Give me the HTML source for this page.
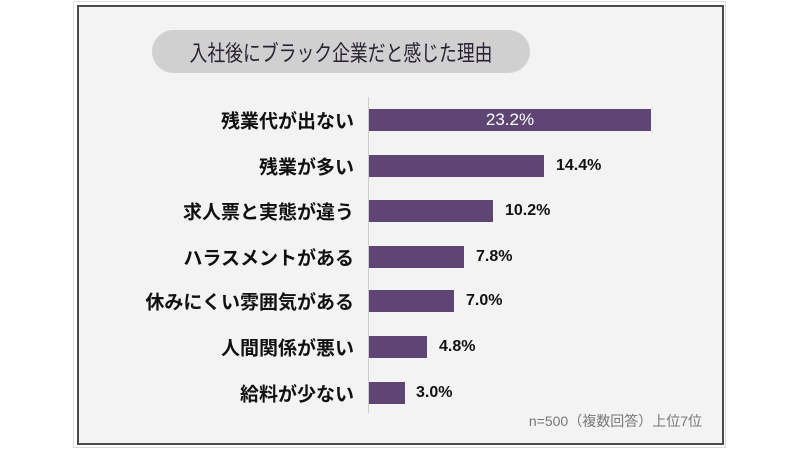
<!DOCTYPE html>
<html><head><meta charset="utf-8"><style>
body{margin:0;width:800px;height:450px;background:#fff;position:relative;font-family:"Liberation Sans","Noto Sans CJK JP",sans-serif;overflow:hidden}
.outer{position:absolute;left:73px;top:1px;width:653px;height:447px;border:1px solid #ddd;box-sizing:border-box}
.frame{position:absolute;left:77px;top:5px;width:647px;height:440px;border:2px solid #4a4a4a;box-sizing:border-box;background:#f3f3f3}
.title{position:absolute;left:152px;top:30px;width:378px;height:43px;border-radius:22px;background:#d0d0d0}
.title span{position:absolute;left:50%;top:50%;transform:translate(-50%,-50%) scaleX(0.81);font-size:22px;white-space:nowrap;color:#2a2233}
.axis{position:absolute;left:368px;top:97px;width:1px;height:316px;background:#ccc}
.lab{position:absolute;right:446px;font-size:19px;font-weight:bold;color:#111;transform:translateY(-50%);white-space:nowrap}
.bar{position:absolute;left:369px;height:22px;background:#5e4574;transform:translateY(-50%)}
.val{position:absolute;font-size:16px;font-weight:bold;color:#111;transform:translateY(-50%)}
.note{position:absolute;right:98px;top:411px;font-size:14px;color:#777}
</style></head><body>
<div class="outer"></div>
<div class="frame"></div>
<div class="title"><span>入社後にブラック企業だと感じた理由</span></div>
<div class="axis"></div>

<div class="lab" style="top:120px">残業代が出ない</div>
<div class="bar" style="top:120px;width:282px"></div>
<div class="val" style="top:120px;left:369px;width:282px;text-align:center;color:#fff;font-weight:normal;font-size:17px">23.2%</div>

<div class="lab" style="top:166px">残業が多い</div>
<div class="bar" style="top:166px;width:175px"></div>
<div class="val" style="top:166px;left:556px">14.4%</div>

<div class="lab" style="top:211px">求人票と実態が違う</div>
<div class="bar" style="top:211px;width:124px"></div>
<div class="val" style="top:211px;left:505px">10.2%</div>

<div class="lab" style="top:257px">ハラスメントがある</div>
<div class="bar" style="top:257px;width:95px"></div>
<div class="val" style="top:257px;left:476px">7.8%</div>

<div class="lab" style="top:301px">休みにくい雰囲気がある</div>
<div class="bar" style="top:301px;width:85px"></div>
<div class="val" style="top:301px;left:466px">7.0%</div>

<div class="lab" style="top:347px">人間関係が悪い</div>
<div class="bar" style="top:347px;width:58px"></div>
<div class="val" style="top:347px;left:439px">4.8%</div>

<div class="lab" style="top:393px">給料が少ない</div>
<div class="bar" style="top:393px;width:36px"></div>
<div class="val" style="top:393px;left:416px">3.0%</div>

<div class="note">n=500（複数回答）上位7位</div>
</body></html>
